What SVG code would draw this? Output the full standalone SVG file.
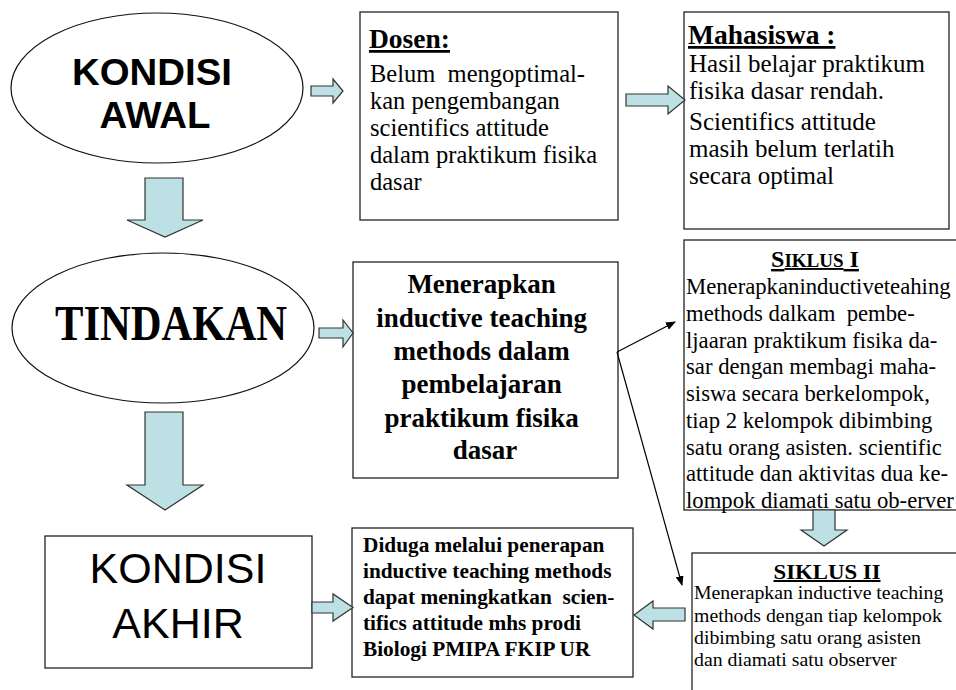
<svg xmlns="http://www.w3.org/2000/svg" width="956" height="690" viewBox="0 0 956 690">
<style>
.box{fill:#fff;stroke:#222;stroke-width:1.3}
.ell{fill:#fff;stroke:#111;stroke-width:1.2}
.blk{fill:#BCE0E3;stroke:#333;stroke-width:1.2;stroke-linejoin:miter}
.ln{stroke:#000;stroke-width:1.2;fill:none}
.serif{font-family:"Liberation Serif","Times New Roman",serif;fill:#000}
.sans{font-family:"Liberation Sans",Arial,sans-serif;fill:#000}
.b{font-weight:bold}
.u{text-decoration:underline}
</style>
<defs>
<marker id="ah" markerWidth="10" markerHeight="8" refX="9" refY="4" orient="auto" markerUnits="userSpaceOnUse">
<path d="M0,0 L10,4 L0,8 Z" fill="#000"/>
</marker>
</defs>
<rect width="956" height="690" fill="#fff"/>

<g id="kondisi-awal">
<ellipse class="ell" cx="157" cy="88" rx="146" ry="75"/>
<text class="sans b" font-size="36" x="152" y="85" text-anchor="middle" textLength="160" lengthAdjust="spacingAndGlyphs">KONDISI</text>
<text class="sans b" font-size="36" x="155" y="128" text-anchor="middle" textLength="111" lengthAdjust="spacingAndGlyphs">AWAL</text>
</g>

<g id="dosen">
<rect class="box" x="360" y="12" width="258" height="208"/>
<text class="serif b u" font-size="27.5" x="369" y="48">Dosen:</text>
<text class="serif" font-size="24.5" xml:space="preserve"><tspan x="370" y="82">Belum  mengoptimal-</tspan><tspan x="370" y="109">kan pengembangan</tspan><tspan x="370" y="136">scientifics attitude</tspan><tspan x="370" y="163">dalam praktikum fisika</tspan><tspan x="370" y="190">dasar</tspan></text>
</g>

<g id="mahasiswa">
<rect class="box" x="684" y="12" width="265" height="217"/>
<text class="serif b u" font-size="27.5" x="688" y="44">Mahasiswa :</text>
<text class="serif" font-size="25">
<tspan x="689" y="72">Hasil belajar praktikum</tspan>
<tspan x="689" y="99">fisika dasar rendah.</tspan>
<tspan x="689" y="130">Scientifics attitude</tspan>
<tspan x="689" y="157">masih belum terlatih</tspan>
<tspan x="689" y="184">secara optimal</tspan>
</text>
</g>

<g id="tindakan">
<ellipse class="ell" cx="163" cy="328" rx="151" ry="75"/>
<text class="serif b" font-size="50" x="171" y="340" text-anchor="middle" textLength="232" lengthAdjust="spacingAndGlyphs">TINDAKAN</text>
</g>

<g id="menerapkan">
<rect class="box" x="353" y="262" width="265" height="216"/>
<text class="serif b" font-size="27" text-anchor="middle">
<tspan x="485" y="293">Menerapkan</tspan>
<tspan x="485" y="327">inductive teaching</tspan>
<tspan x="485" y="360">methods dalam</tspan>
<tspan x="485" y="393">pembelajaran</tspan>
<tspan x="485" y="427">praktikum fisika</tspan>
<tspan x="485" y="459">dasar</tspan>
</text>
</g>

<g id="siklus-1">
<rect class="box" x="684" y="240" width="290" height="270"/>
<text class="serif b u" x="815" y="267" text-anchor="middle"><tspan font-size="24">S</tspan><tspan font-size="19">IKLUS</tspan><tspan font-size="24"> I</tspan></text>
<text class="serif" font-size="22.7" xml:space="preserve"><tspan x="686" y="294">Menerapkaninductiveteahing</tspan><tspan x="686" y="320.75">methods dalkam  pembe-</tspan><tspan x="686" y="347.5">ljaaran praktikum fisika da-</tspan><tspan x="686" y="374.25">sar dengan membagi maha-</tspan><tspan x="686" y="401">siswa secara berkelompok,</tspan><tspan x="686" y="427.75">tiap 2 kelompok dibimbing</tspan><tspan x="686" y="454.5">satu orang asisten. scientific</tspan><tspan x="686" y="481.25">attitude dan aktivitas dua ke-</tspan><tspan x="686" y="508">lompok diamati satu ob-erver</tspan></text>
</g>

<g id="siklus-2">
<rect class="box" x="692" y="553" width="290" height="150"/>
<text class="serif b u" font-size="20" x="827" y="579" text-anchor="middle" textLength="107" lengthAdjust="spacingAndGlyphs">SIKLUS II</text>
<text class="serif" font-size="19.8">
<tspan x="694" y="599">Menerapkan inductive teaching</tspan>
<tspan x="694" y="622">methods dengan tiap kelompok</tspan>
<tspan x="694" y="644">dibimbing satu orang asisten</tspan>
<tspan x="694" y="666">dan diamati satu observer</tspan>
</text>
</g>

<g id="kondisi-akhir">
<rect class="box" x="45" y="536" width="267" height="132"/>
<text class="sans" font-size="43" x="178" y="583" text-anchor="middle">KONDISI</text>
<text class="sans" font-size="43" x="178" y="638" text-anchor="middle">AKHIR</text>
</g>

<g id="diduga">
<rect class="box" x="352" y="528" width="281" height="149"/>
<text class="serif b" font-size="21.3" xml:space="preserve"><tspan x="363" y="552">Diduga melalui penerapan</tspan><tspan x="363" y="578">inductive teaching methods</tspan><tspan x="363" y="604">dapat meningkatkan  scien-</tspan><tspan x="363" y="630">tifics attitude mhs prodi</tspan><tspan x="363" y="656">Biologi PMIPA FKIP UR</tspan></text>
</g>

<g id="connectors">
<polygon class="blk" points="145,178 183,178 183,220 203,220 165,237 127,220 145,220"/>
<polygon class="blk" points="145,412 183,412 183,485 203,485 165,510 127,485 145,485"/>
<polygon class="blk" points="311,86 333,86 333,79 343,91 333,103 333,96 311,96"/>
<polygon class="blk" points="319,328 343,328 343,320 353,333 343,347 343,338 319,338"/>
<polygon class="blk" points="626,94 668,94 668,86 685,100 668,114 668,106 626,106"/>
<polygon class="blk" points="312,602 333,602 333,594 353,607.5 333,621 333,613 312,613"/>
<polygon class="blk" points="685,608 653,608 653,601 634,615 653,629 653,621 685,621"/>
<polygon class="blk" points="813,510 835,510 835,530 847,530 824,546 801,530 813,530"/>
<line class="ln" x1="617" y1="352" x2="675" y2="322" marker-end="url(#ah)"/>
<line class="ln" x1="617" y1="352" x2="682" y2="585" marker-end="url(#ah)"/>
</g>
</svg>
